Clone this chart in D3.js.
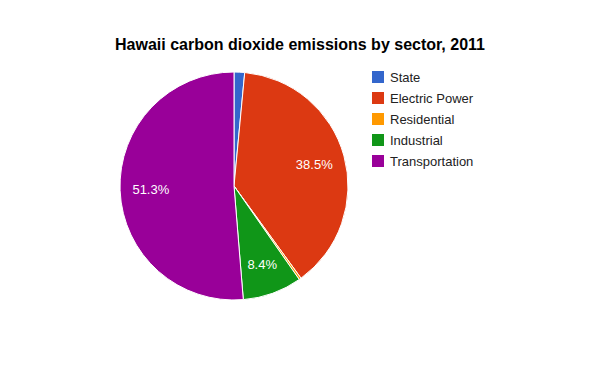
<!DOCTYPE html>
<html>
<head>
<meta charset="utf-8">
<script src="https://cdn.jsdelivr.net/npm/d3@7"></script>
<style>
  body { margin: 0; background: #fff; }
  svg { font-family: Arial, "Liberation Sans", sans-serif; }
</style>
</head>
<body>
<svg id="chart" width="612" height="371"></svg>
<script>
'use strict';

const sectors = ['State', 'Electric Power', 'Residential', 'Industrial', 'Transportation'];
const shares = [1.5, 38.5, 0.3, 8.4, 51.3];
const colors = ['#3366cc', '#dc3912', '#ff9900', '#109618', '#990099'];

const cx = 234;
const cy = 186;
const radius = 114;

const svg = d3.select('#chart');

svg.append('text')
  .attr('x', 300)
  .attr('y', 50)
  .attr('text-anchor', 'middle')
  .style('font-size', '16px')
  .style('font-weight', 'bold')
  .style('fill', '#000')
  .text('Hawaii carbon dioxide emissions by sector, 2011');

const data = sectors.map((name, i) => ({ name, value: shares[i], color: colors[i] }));

const pie = d3.pie().value(d => d.value).sort(null);
const arc = d3.arc().innerRadius(0).outerRadius(radius);
const labelArc = d3.arc().innerRadius(radius * 0.73).outerRadius(radius * 0.73);

const g = svg.append('g').attr('transform', `translate(${cx},${cy})`);
const arcs = pie(data);

g.selectAll('path.slice')
  .data(arcs)
  .join('path')
  .attr('class', 'slice')
  .attr('d', arc)
  .attr('fill', d => d.data.color)
  .attr('stroke', '#fff')
  .attr('stroke-width', 1);

g.selectAll('text.label')
  .data(arcs.filter(d => d.data.value >= 5))
  .join('text')
  .attr('class', 'label')
  .attr('transform', d => `translate(${labelArc.centroid(d)})`)
  .attr('text-anchor', 'middle')
  .attr('dy', '0.35em')
  .style('font-size', '13px')
  .style('fill', '#fff')
  .text(d => d.data.value.toFixed(1) + '%');

const legend = svg.append('g').attr('transform', 'translate(372,71)');
const rows = legend.selectAll('g.row')
  .data(data)
  .join('g')
  .attr('class', 'row')
  .attr('transform', (d, i) => `translate(0,${i * 21})`);

rows.append('rect')
  .attr('width', 12)
  .attr('height', 12)
  .attr('fill', d => d.color);

rows.append('text')
  .attr('x', 18)
  .attr('y', 11)
  .style('font-size', '13px')
  .style('fill', '#222')
  .text(d => d.name);
</script>
</body>
</html>
